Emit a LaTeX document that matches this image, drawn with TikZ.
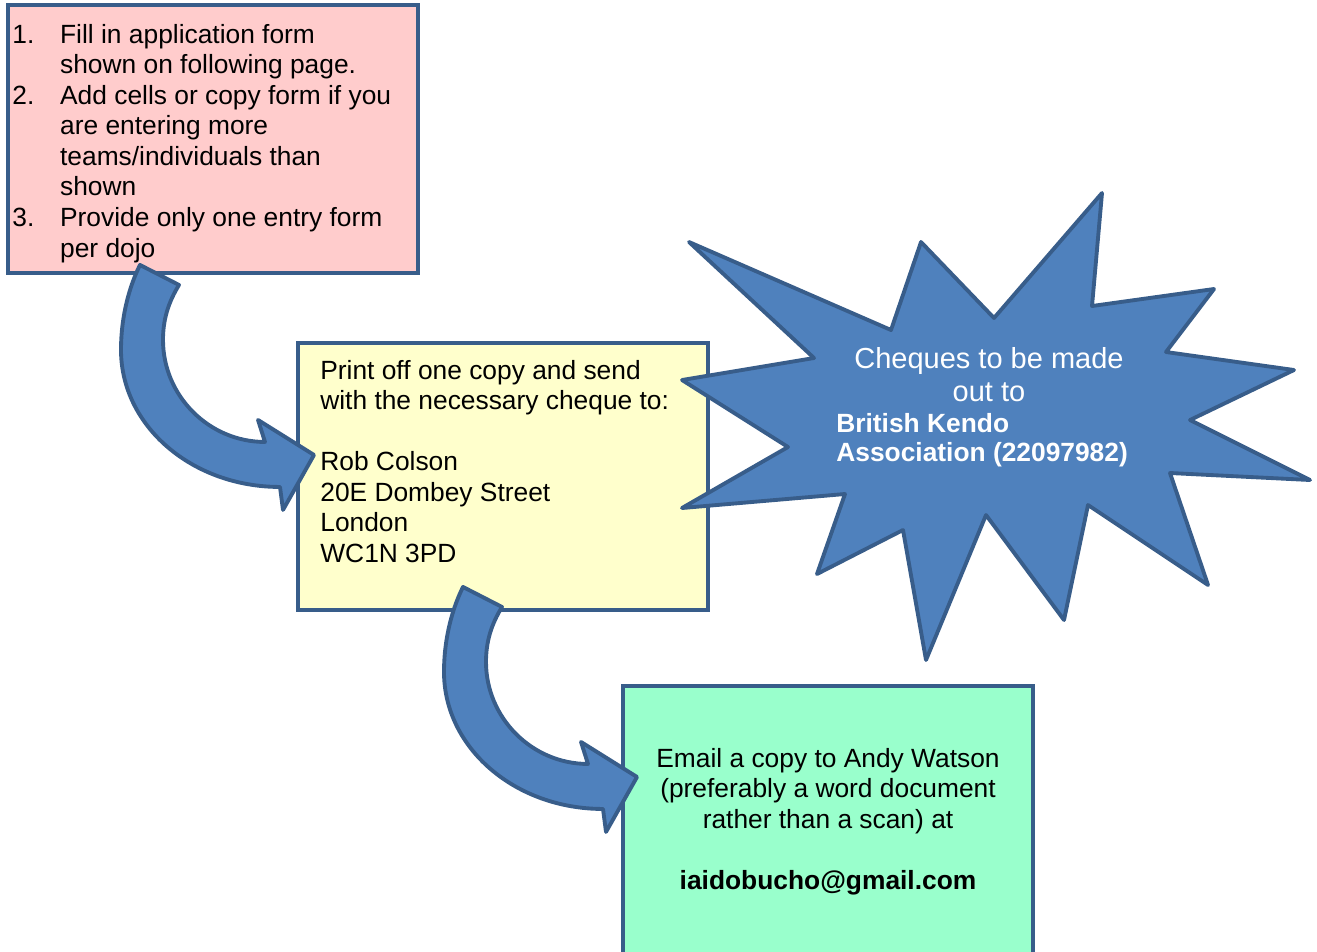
\documentclass[tikz,border=0pt]{standalone}
\usepackage{fontspec}
\setmainfont{Liberation Sans}
\usepackage{tikz}

\definecolor{pinkfill}{HTML}{FFCCCC}
\definecolor{lemonfill}{HTML}{FFFFCC}
\definecolor{mintfill}{HTML}{99FFCC}
\definecolor{shapeblue}{HTML}{4F81BD}
\definecolor{edgeblue}{HTML}{385D8A}

\newcommand{\boxfont}{\fontsize{15}{17.4}\selectfont}
\newcommand{\starfont}{\fontsize{16.5}{19.3}\selectfont}
\newcommand{\starboldfont}{\fontsize{15}{17}\selectfont\bfseries}

\tikzset{
	pics/bentarrow/.style={code={
		\draw[arrowshape] (0,0) -- (39,20)
			.. controls (28,38) and (23,55) .. (23,75)
			.. controls (23,131) and (69,177) .. (125,177)
			-- (118,155) -- (174,190) -- (143,245) -- (140,222)
			.. controls (52,222) and (-19,161) .. (-19,85)
			.. controls (-19,50) and (-10,20) .. cycle;
	}}
}

\begin{document}
\begin{tikzpicture}[x=0.02cm,y=-0.02cm,
	box/.style={draw=edgeblue, line width=2.2pt, rectangle, minimum width=8.2cm, anchor=north west, inner sep=0pt, outer sep=0pt},
	boxtext/.style={inner sep=0pt, font=\boxfont},
	arrowshape/.style={draw=edgeblue, fill=shapeblue, line width=2.2pt, line join=round},
	burst/.style={draw=edgeblue, fill=shapeblue, line width=2.2pt, line join=round}]
	
	\useasboundingbox (0,0) rectangle (1317,951);
	\clip (0,0) rectangle (1317,951);
	
	% the three boxes
	\node[box, fill=pinkfill, minimum height=5.36cm] (steps) at (8,5) {};
	\node[box, fill=lemonfill, minimum height=5.34cm] (post) at (298,343) {};
	\node[box, fill=mintfill, minimum height=5.8cm] (email) at (623,686) {};
	
	\node[boxtext, anchor=base west] (stepstext) at (12,43) {\begin{tabular}[t]{@{}p{27.2pt}@{}l@{}}
		1. & Fill in application form\\
		   & shown on following page.\\
		2. & Add cells or copy form if you\\
		   & are entering more\\
		   & teams/individuals than\\
		   & shown\\
		3. & Provide only one entry form\\
		   & per dojo
	\end{tabular}};
	
	\node[boxtext, anchor=base west] (posttext) at (320,379) {\begin{tabular}[t]{@{}l@{}}
		Print off one copy and send\\
		with the necessary cheque to:\\
		\\
		Rob Colson\\
		20E Dombey Street\\
		London\\
		WC1N 3PD
	\end{tabular}};
	
	\node[boxtext, anchor=base] (emailtext) at (828,767) {\begin{tabular}[t]{@{}c@{}}
		Email a copy to Andy Watson\\
		(preferably a word document\\
		rather than a scan) at\\
		\\
		\textbf{iaidobucho@gmail.com}
	\end{tabular}};
	
	% bent arrows
	\pic at ([shift={(132,-8)}]steps.south west) {bentarrow};
	\pic at ([shift={(165,-23)}]post.south west) {bentarrow};
	
	% star
	\draw[burst] (689,242) -- (891,330) -- (921,242) -- (994,318) -- (1102,193)
		-- (1092,306) -- (1214,289) -- (1166,352) -- (1294,370) -- (1190,420)
		-- (1310,480) -- (1170,473) -- (1208,585) -- (1088,505) -- (1064,620)
		-- (986,515) -- (926,660) -- (903,530) -- (817,574) -- (845,494)
		-- (682,508) -- (788,447) -- (682,380) -- (814,358) -- cycle;
	
	\node[inner sep=0pt, anchor=base, font=\starfont, text=white] (payee) at (989,368) {\begin{tabular}[t]{@{}c@{}}
		Cheques to be made\\
		out to
	\end{tabular}};
	\node[inner sep=0pt, anchor=base west, font=\starboldfont, text=white] (payeename) at (836,432) {\begin{tabular}[t]{@{}l@{}}
		British Kendo\\
		Association (22097982)
	\end{tabular}};
	
\end{tikzpicture}
\end{document}
